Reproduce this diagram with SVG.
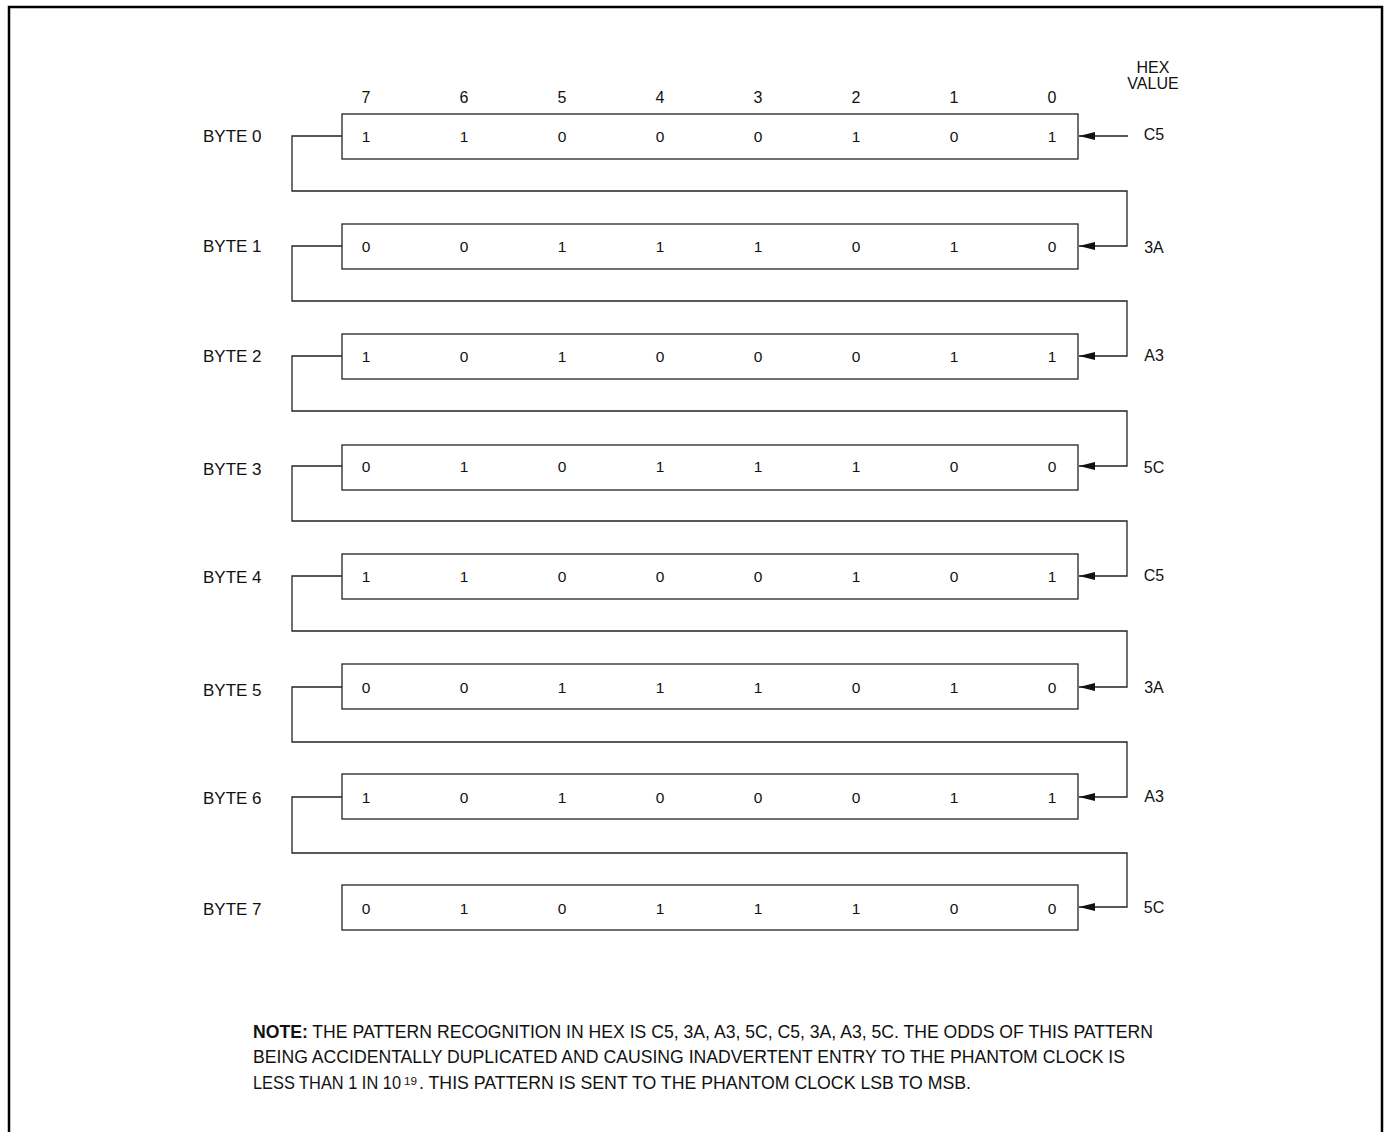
<svg xmlns="http://www.w3.org/2000/svg" width="1384" height="1132" viewBox="0 0 1384 1132">
<style>
text{font-family:"Liberation Sans",Arial,sans-serif;fill:#111}
.lbl{font-size:17px}
.bit{font-size:15.5px;text-anchor:middle}
.hex{font-size:16px;text-anchor:middle}
.note{font-size:18px}
.box{fill:#fff;stroke:#222;stroke-width:1.3}
.wire{fill:none;stroke:#222;stroke-width:1.3}
</style>
<defs>
<marker id="ah" markerWidth="16" markerHeight="10" refX="16" refY="5" orient="auto" markerUnits="userSpaceOnUse">
<path d="M0,1 L16,5 L0,9 Z" fill="#111"/>
</marker>
</defs>
<rect width="1384" height="1132" fill="#fff"/>
<path d="M9,1132 V7 H1382 V1132" fill="none" stroke="#000" stroke-width="2.5"/>
<g id="header">
<text class="hex" x="366" y="103">7</text>
<text class="hex" x="464" y="103">6</text>
<text class="hex" x="562" y="103">5</text>
<text class="hex" x="660" y="103">4</text>
<text class="hex" x="758" y="103">3</text>
<text class="hex" x="856" y="103">2</text>
<text class="hex" x="954" y="103">1</text>
<text class="hex" x="1052" y="103">0</text>
<text class="hex" x="1153" y="73">HEX</text>
<text class="hex" x="1153" y="89">VALUE</text>
</g>
<g id="connectors">
<line class="wire" x1="1128" y1="136" x2="1079" y2="136" marker-end="url(#ah)"/>
<path class="wire" d="M342,136 H292 V191 H1127 V246 H1079" marker-end="url(#ah)"/>
<path class="wire" d="M342,246 H292 V301 H1127 V356 H1079" marker-end="url(#ah)"/>
<path class="wire" d="M342,356 H292 V411 H1127 V466 H1079" marker-end="url(#ah)"/>
<path class="wire" d="M342,466 H292 V521 H1127 V576 H1079" marker-end="url(#ah)"/>
<path class="wire" d="M342,576 H292 V631 H1127 V687 H1079" marker-end="url(#ah)"/>
<path class="wire" d="M342,687 H292 V742 H1127 V797 H1079" marker-end="url(#ah)"/>
<path class="wire" d="M342,797 H292 V853 H1127 V907 H1079" marker-end="url(#ah)"/>
</g>
<g id="byte0">
<text class="lbl" x="203" y="142">BYTE 0</text>
<rect class="box" x="342" y="114" width="736" height="45"/>
<text class="bit" x="366" y="142">1</text><text class="bit" x="464" y="142">1</text><text class="bit" x="562" y="142">0</text><text class="bit" x="660" y="142">0</text><text class="bit" x="758" y="142">0</text><text class="bit" x="856" y="142">1</text><text class="bit" x="954" y="142">0</text><text class="bit" x="1052" y="142">1</text>
<text class="hex" x="1154" y="140">C5</text>
</g>
<g id="byte1">
<text class="lbl" x="203" y="252">BYTE 1</text>
<rect class="box" x="342" y="224" width="736" height="45"/>
<text class="bit" x="366" y="252">0</text><text class="bit" x="464" y="252">0</text><text class="bit" x="562" y="252">1</text><text class="bit" x="660" y="252">1</text><text class="bit" x="758" y="252">1</text><text class="bit" x="856" y="252">0</text><text class="bit" x="954" y="252">1</text><text class="bit" x="1052" y="252">0</text>
<text class="hex" x="1154" y="253">3A</text>
</g>
<g id="byte2">
<text class="lbl" x="203" y="362">BYTE 2</text>
<rect class="box" x="342" y="334" width="736" height="45"/>
<text class="bit" x="366" y="362">1</text><text class="bit" x="464" y="362">0</text><text class="bit" x="562" y="362">1</text><text class="bit" x="660" y="362">0</text><text class="bit" x="758" y="362">0</text><text class="bit" x="856" y="362">0</text><text class="bit" x="954" y="362">1</text><text class="bit" x="1052" y="362">1</text>
<text class="hex" x="1154" y="361">A3</text>
</g>
<g id="byte3">
<text class="lbl" x="203" y="475">BYTE 3</text>
<rect class="box" x="342" y="445" width="736" height="45"/>
<text class="bit" x="366" y="472">0</text><text class="bit" x="464" y="472">1</text><text class="bit" x="562" y="472">0</text><text class="bit" x="660" y="472">1</text><text class="bit" x="758" y="472">1</text><text class="bit" x="856" y="472">1</text><text class="bit" x="954" y="472">0</text><text class="bit" x="1052" y="472">0</text>
<text class="hex" x="1154" y="473">5C</text>
</g>
<g id="byte4">
<text class="lbl" x="203" y="583">BYTE 4</text>
<rect class="box" x="342" y="554" width="736" height="45"/>
<text class="bit" x="366" y="582">1</text><text class="bit" x="464" y="582">1</text><text class="bit" x="562" y="582">0</text><text class="bit" x="660" y="582">0</text><text class="bit" x="758" y="582">0</text><text class="bit" x="856" y="582">1</text><text class="bit" x="954" y="582">0</text><text class="bit" x="1052" y="582">1</text>
<text class="hex" x="1154" y="581">C5</text>
</g>
<g id="byte5">
<text class="lbl" x="203" y="696">BYTE 5</text>
<rect class="box" x="342" y="664" width="736" height="45"/>
<text class="bit" x="366" y="693">0</text><text class="bit" x="464" y="693">0</text><text class="bit" x="562" y="693">1</text><text class="bit" x="660" y="693">1</text><text class="bit" x="758" y="693">1</text><text class="bit" x="856" y="693">0</text><text class="bit" x="954" y="693">1</text><text class="bit" x="1052" y="693">0</text>
<text class="hex" x="1154" y="693">3A</text>
</g>
<g id="byte6">
<text class="lbl" x="203" y="804">BYTE 6</text>
<rect class="box" x="342" y="774" width="736" height="45"/>
<text class="bit" x="366" y="803">1</text><text class="bit" x="464" y="803">0</text><text class="bit" x="562" y="803">1</text><text class="bit" x="660" y="803">0</text><text class="bit" x="758" y="803">0</text><text class="bit" x="856" y="803">0</text><text class="bit" x="954" y="803">1</text><text class="bit" x="1052" y="803">1</text>
<text class="hex" x="1154" y="802">A3</text>
</g>
<g id="byte7">
<text class="lbl" x="203" y="915">BYTE 7</text>
<rect class="box" x="342" y="885" width="736" height="45"/>
<text class="bit" x="366" y="914">0</text><text class="bit" x="464" y="914">1</text><text class="bit" x="562" y="914">0</text><text class="bit" x="660" y="914">1</text><text class="bit" x="758" y="914">1</text><text class="bit" x="856" y="914">1</text><text class="bit" x="954" y="914">0</text><text class="bit" x="1052" y="914">0</text>
<text class="hex" x="1154" y="913">5C</text>
</g>
<g id="note">
<text class="note" x="253" y="1038" textLength="900" lengthAdjust="spacingAndGlyphs"><tspan font-weight="bold">NOTE:</tspan> THE PATTERN RECOGNITION IN HEX IS C5, 3A, A3, 5C, C5, 3A, A3, 5C. THE ODDS OF THIS PATTERN</text>
<text class="note" x="253" y="1063" textLength="872" lengthAdjust="spacingAndGlyphs">BEING ACCIDENTALLY DUPLICATED AND CAUSING INADVERTENT ENTRY TO THE PHANTOM CLOCK IS</text>
<text class="note" x="253" y="1089" textLength="148" lengthAdjust="spacingAndGlyphs">LESS THAN 1 IN 10</text>
<text x="404" y="1085" font-size="10.5" textLength="13" lengthAdjust="spacingAndGlyphs">19</text>
<text class="note" x="419" y="1089" textLength="552" lengthAdjust="spacingAndGlyphs">. THIS PATTERN IS SENT TO THE PHANTOM CLOCK LSB TO MSB.</text>
</g>
</svg>
